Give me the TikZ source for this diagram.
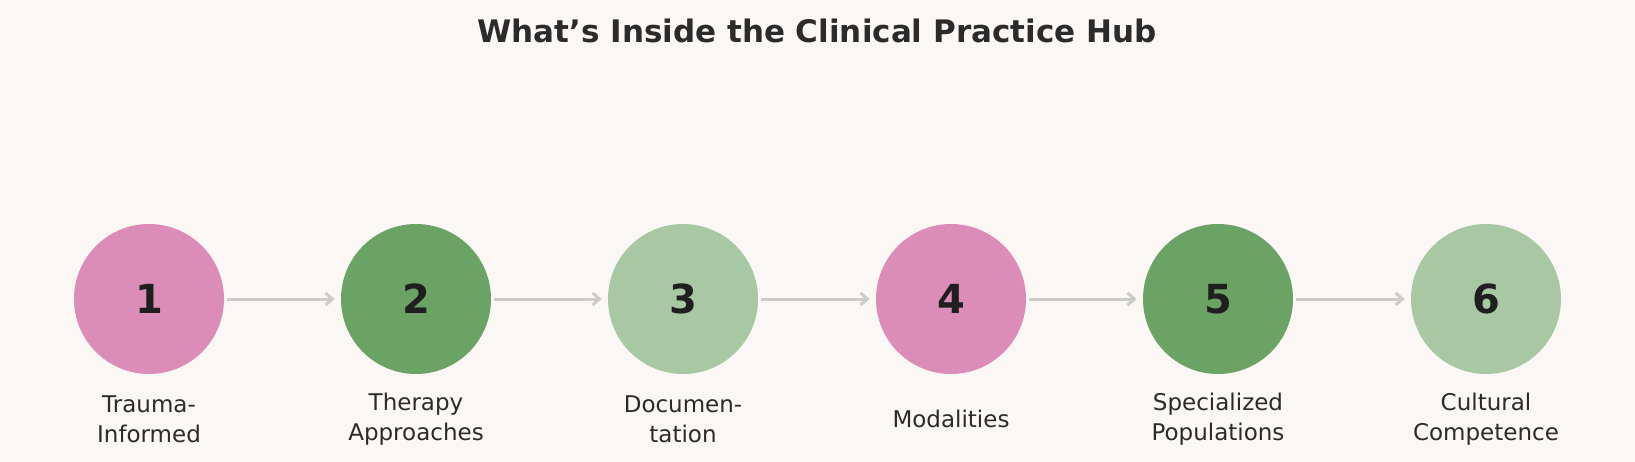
\documentclass[tikz,border=0pt]{standalone}
\usepackage{fontspec}
\setmainfont{DejaVu Sans}
\usetikzlibrary{arrows.meta}
\definecolor{bg}{HTML}{FAF7F4}
\definecolor{pk}{HTML}{DB8DB7}
\definecolor{gd}{HTML}{6BA364}
\definecolor{gl}{HTML}{A8C8A3}
\definecolor{tx}{HTML}{2B2B2B}
\definecolor{ar}{HTML}{CCCCCC}
\begin{document}
\begin{tikzpicture}[x=1pt,y=-1pt,
  stp/.style={circle,minimum size=150pt,inner sep=0pt,font=\fontsize{40}{40}\selectfont\bfseries,text=black!88},
  lab/.style={align=center,font=\fontsize{23}{30}\selectfont,text=tx},
  conn/.style={draw=ar,line width=3pt,-{Straight Barb[length=7pt,width=12pt]}}]
\fill[bg] (0,0) rectangle (1635,462);
\useasboundingbox (0,0) rectangle (1635,462);
\node[font=\fontsize{31}{31}\selectfont\bfseries,text=tx] (title) at (817,31) {What's Inside the Clinical Practice Hub};
\node[stp,fill=pk] (n1) at (149,299) {1};
\node[stp,fill=gd] (n2) at (416,299) {2};
\node[stp,fill=gl] (n3) at (683,299) {3};
\node[stp,fill=pk] (n4) at (951,299) {4};
\node[stp,fill=gd] (n5) at (1218,299) {5};
\node[stp,fill=gl] (n6) at (1486,299) {6};
\node[lab] (l1) at (149,419) {Trauma-\\Informed};
\node[lab] (l2) at (416,419) {Therapy\\Approaches};
\node[lab] (l3) at (683,419) {Documen-\\tation};
\node[lab] (l4) at (951,419) {Modalities};
\node[lab] (l5) at (1218,419) {Specialized\\Populations};
\node[lab] (l6) at (1486,419) {Cultural\\Competence};
\foreach \a/\b in {n1/n2,n2/n3,n3/n4,n4/n5,n5/n6}
  \draw[conn] ([xshift=3pt]\a.east) -- ([xshift=-6pt]\b.west);
\end{tikzpicture}
\end{document}
